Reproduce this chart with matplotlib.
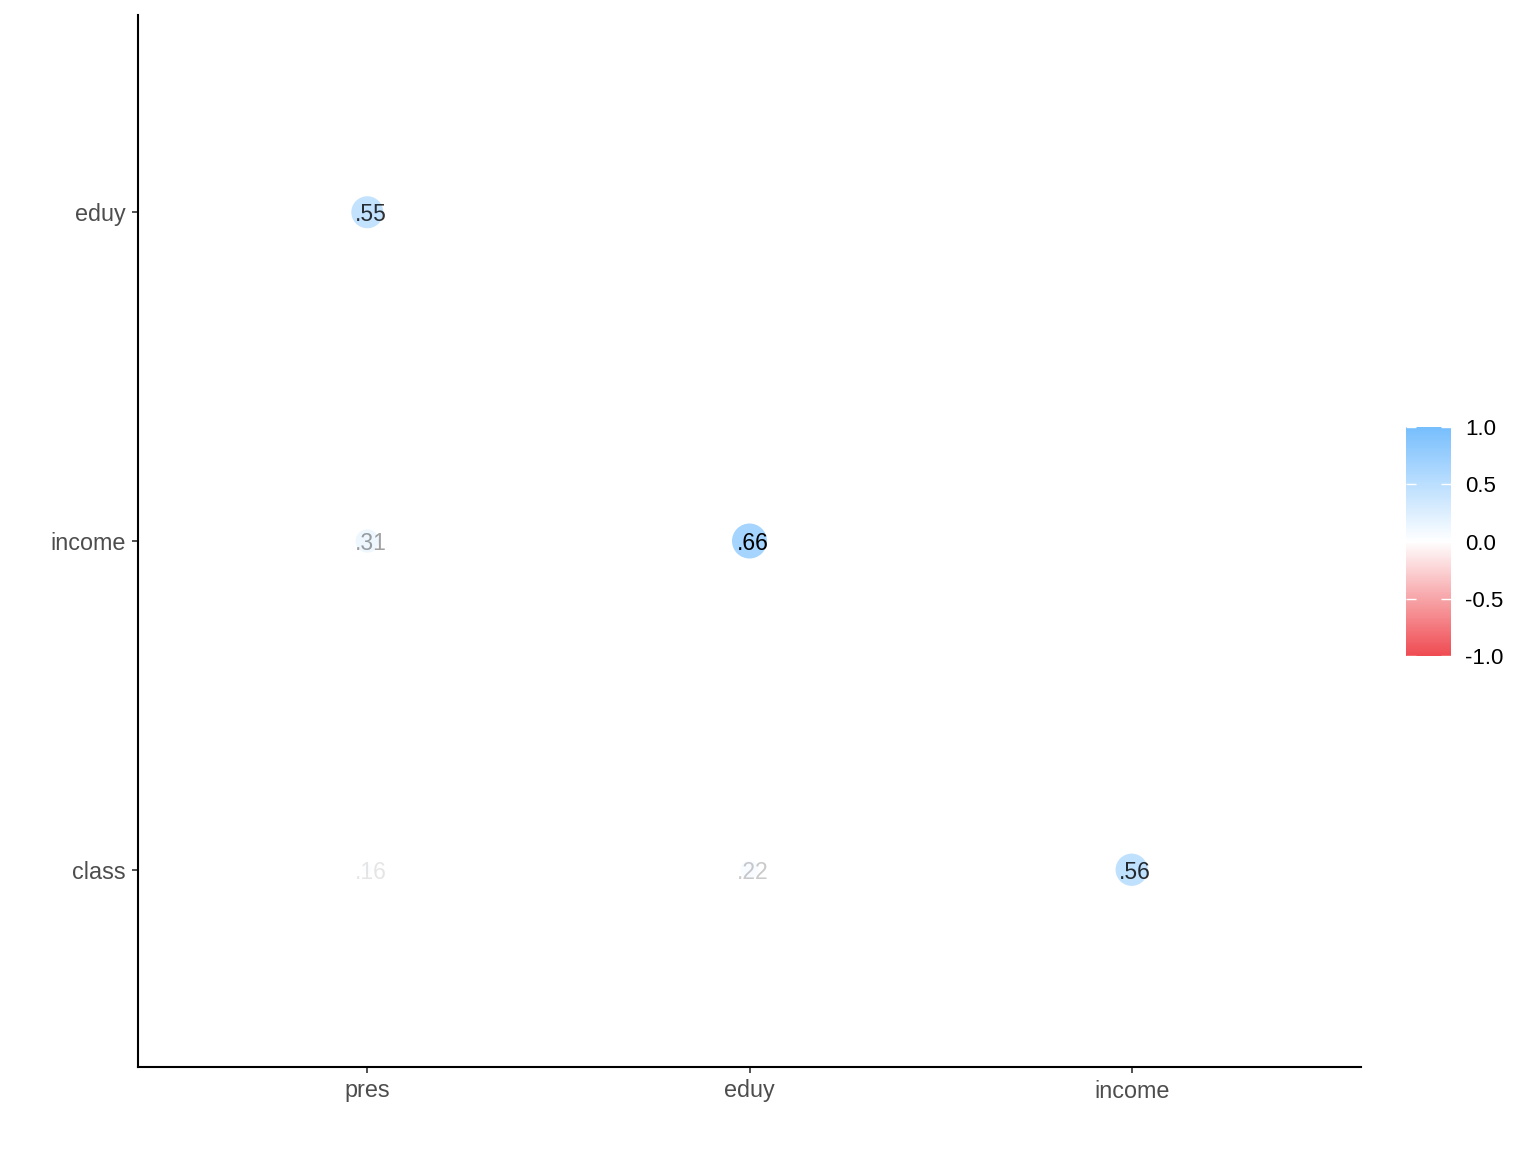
import numpy as np
import matplotlib
matplotlib.use("Agg")
import matplotlib.pyplot as plt
from matplotlib.colors import LinearSegmentedColormap, Normalize
from matplotlib.cm import ScalarMappable
from matplotlib.ticker import FormatStrFormatter

plt.rcParams['font.family'] = ['Liberation Sans', 'DejaVu Sans']

# Data: lower triangle of the correlation matrix
x_vars = ['pres', 'eduy', 'income']
y_vars = ['class', 'income', 'eduy']          # bottom to top
col_var = ['pres', 'pres', 'eduy', 'pres', 'eduy', 'income']
row_var = ['eduy', 'income', 'income', 'class', 'class', 'class']
r_vals = [0.55, 0.31, 0.66, 0.16, 0.22, 0.56]
cbar_ticks = [-1.0, -0.5, 0.0, 0.5, 1.0]

cmap = LinearSegmentedColormap.from_list('rwb', ['#EF4B52', '#FFFFFF', '#77BEFD'])
norm = Normalize(-1, 1)

fig = plt.figure(figsize=(15.36, 11.52), dpi=100)
ax = fig.add_axes([138 / 1536, 85 / 1152, (1361 - 138) / 1536, (1067 - 15) / 1152])

xs = np.array([x_vars.index(c) + 1 for c in col_var])
ys = np.array([y_vars.index(r) + 1 for r in row_var])
r = np.array(r_vals)

# size & alpha scaled on |r| like ggplot (area palette, alpha range 0.1-1)
a = np.abs(r)
t = (a - a.min()) / (a.max() - a.min())
diam_px = 9.4 + 25.6 * np.sqrt(t)
sizes = (diam_px * 0.72) ** 2
alphas = 0.1 + 0.9 * t

cols = cmap(norm(r))
cols[:, 3] = alphas
ax.scatter(xs, ys, s=sizes, c=cols, edgecolors='none', zorder=2)
for x, y, v, al in zip(xs, ys, r, alphas):
    ax.text(x + 0.008, y, f"{v:.2f}".lstrip("0"), ha='center', va='center_baseline',
            fontsize=16.5, color='black', alpha=al, zorder=3)

ax.set_xlim(0.4, 3.6)
ax.set_ylim(0.4, 3.6)
ax.set_xticks(range(1, len(x_vars) + 1))
ax.set_xticklabels(x_vars)
ax.set_yticks(range(1, len(y_vars) + 1))
ax.set_yticklabels(y_vars)
for s in ['top', 'right']:
    ax.spines[s].set_visible(False)
for s in ['left', 'bottom']:
    ax.spines[s].set_linewidth(1.5)
    ax.spines[s].set_color('black')
ax.tick_params(length=4, width=1.2, color='#333333', labelcolor='#4d4d4d',
               labelsize=16.8)
ax.tick_params(axis='x', pad=5)
ax.tick_params(axis='y', pad=5)

# colorbar
cax = fig.add_axes([1406 / 1536, (1152 - 656) / 1152, 45 / 1536, 229 / 1152])
cb = fig.colorbar(ScalarMappable(norm=norm, cmap=cmap), cax=cax, ticks=cbar_ticks)
cb.outline.set_visible(False)
cb.ax.yaxis.set_major_formatter(FormatStrFormatter('%.1f'))
cb.ax.tick_params(axis='y', direction='in', left=True, right=True, color='white',
                  length=7, width=1, labelsize=16, labelcolor='black', pad=10)

fig.savefig('out.png', dpi=100, facecolor='white')
